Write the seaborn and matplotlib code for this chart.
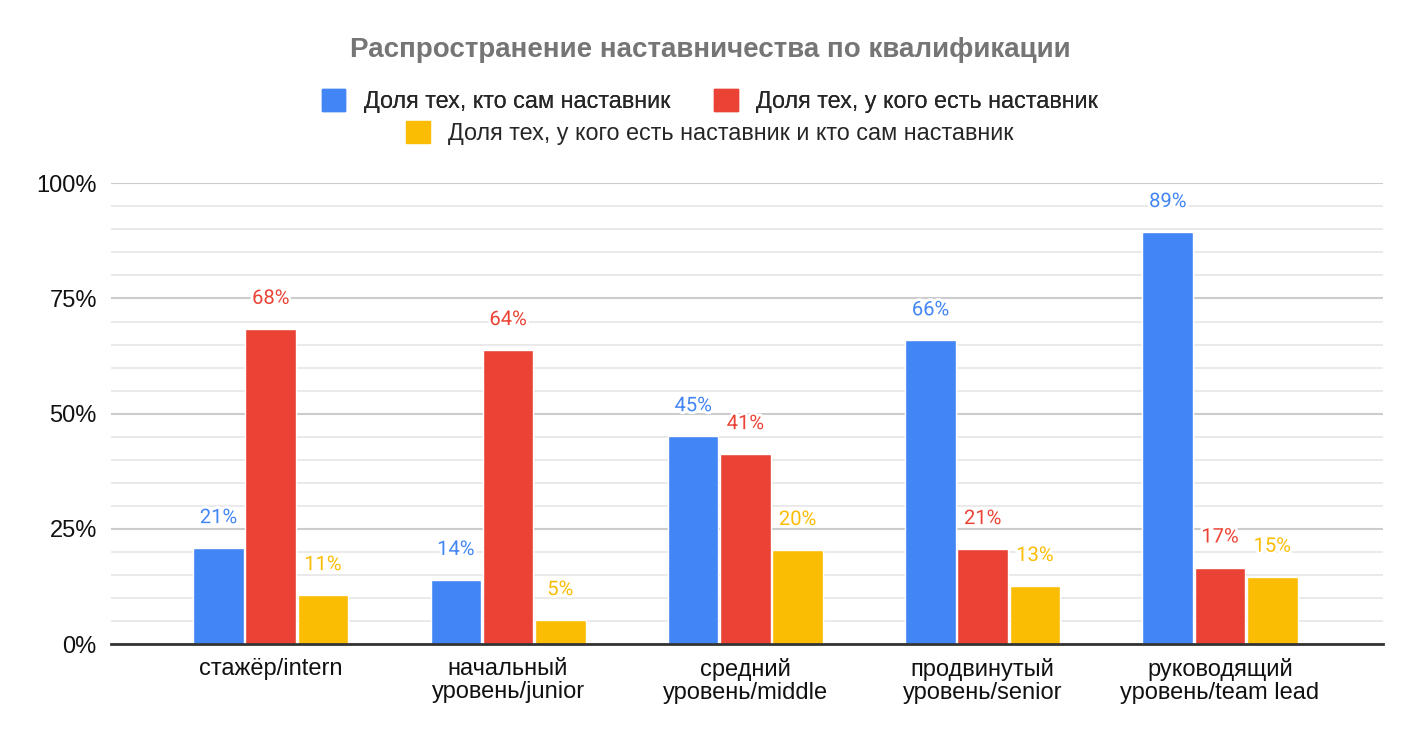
import pandas as pd
import matplotlib.pyplot as plt
import matplotlib.patheffects as pe
from matplotlib.patches import Patch
from matplotlib.ticker import MultipleLocator, PercentFormatter
import seaborn as sns

# data
levels = ["стажёр/intern", "начальный\nуровень/junior", "средний\nуровень/middle",
          "продвинутый\nуровень/senior", "руководящий\nуровень/team lead"]
series_names = ["Доля тех, кто сам наставник",
                "Доля тех, у кого есть наставник",
                "Доля тех, у кого есть наставник и кто сам наставник"]
is_mentor = [20.8, 13.9, 45.1, 65.9, 89.4]
has_mentor = [68.4, 63.8, 41.2, 20.6, 16.6]
both = [10.6, 5.2, 20.4, 12.6, 14.6]
colors = ["#4285F4", "#EA4335", "#FBBC04"]

df = pd.DataFrame({
    "level": levels * 3,
    "series": [s for s in series_names for _ in levels],
    "value": is_mentor + has_mentor + both,
})

sns.set_theme(style="white")
plt.rcParams["font.family"] = ["Liberation Sans", "DejaVu Sans"]

fig = plt.figure(figsize=(14.2, 7.42), dpi=100)
ax = fig.add_axes([0.078, 0.132, 0.896, 0.621])

sns.barplot(data=df, x="level", y="value", hue="series", hue_order=series_names,
            palette=colors, width=0.66, gap=0.03, saturation=1, legend=False, ax=ax)

ax.set_ylim(0, 100)
ax.set_xlim(-0.674, 4.687)
ax.yaxis.set_major_locator(MultipleLocator(25))
ax.yaxis.set_minor_locator(MultipleLocator(5))
ax.yaxis.set_major_formatter(PercentFormatter(decimals=0))
ax.grid(axis="y", which="major", color="#cccccc", linewidth=1.5, zorder=0)
ax.grid(axis="y", which="minor", color="#e6e6e6", linewidth=1.2, zorder=0)
ax.set_axisbelow(True)
for s in ["top", "right", "left"]:
    ax.spines[s].set_visible(False)
ax.spines["bottom"].set_color("#333333")
ax.spines["bottom"].set_linewidth(2)
ax.tick_params(axis="both", length=0, labelsize=17, colors="#111111")
ax.tick_params(axis="y", pad=10)
ax.tick_params(axis="x", pad=10)
for t in ax.get_xticklabels():
    t.set_linespacing(1.05)
ax.set_xlabel("")
ax.set_ylabel("")

# value labels above bars
for container, c in zip(ax.containers, colors):
    for bar in container:
        h = bar.get_height()
        ax.annotate(f"{h:.0f}%", (bar.get_x() + bar.get_width() / 2, h),
                    xytext=(0, 22), textcoords="offset points", ha="center", va="center",
                    fontsize=14.5, color=c, family=["Roboto", "DejaVu Sans"],
                    path_effects=[pe.withStroke(linewidth=4, foreground="white")])

fig.text(0.5, 0.933, "Распространение наставничества по квалификации", ha="center", va="center",
         fontsize=20, fontweight="bold", color="#757575")

handles = [Patch(facecolor=c, edgecolor=c) for c in colors]
leg1 = fig.legend(handles[:2], series_names[:2], ncol=2, loc="center", bbox_to_anchor=(0.5, 0.864),
                  frameon=False, fontsize=16.8, handlelength=1.0, handleheight=1.1,
                  handletextpad=0.8, columnspacing=1.9)
leg2 = fig.legend(handles[2:], series_names[2:], ncol=1, loc="center", bbox_to_anchor=(0.5, 0.821),
                  frameon=False, fontsize=16.8, handlelength=1.0, handleheight=1.1,
                  handletextpad=0.8)
fig.add_artist(leg1)

fig.savefig("out.png", dpi=100, facecolor="white")
